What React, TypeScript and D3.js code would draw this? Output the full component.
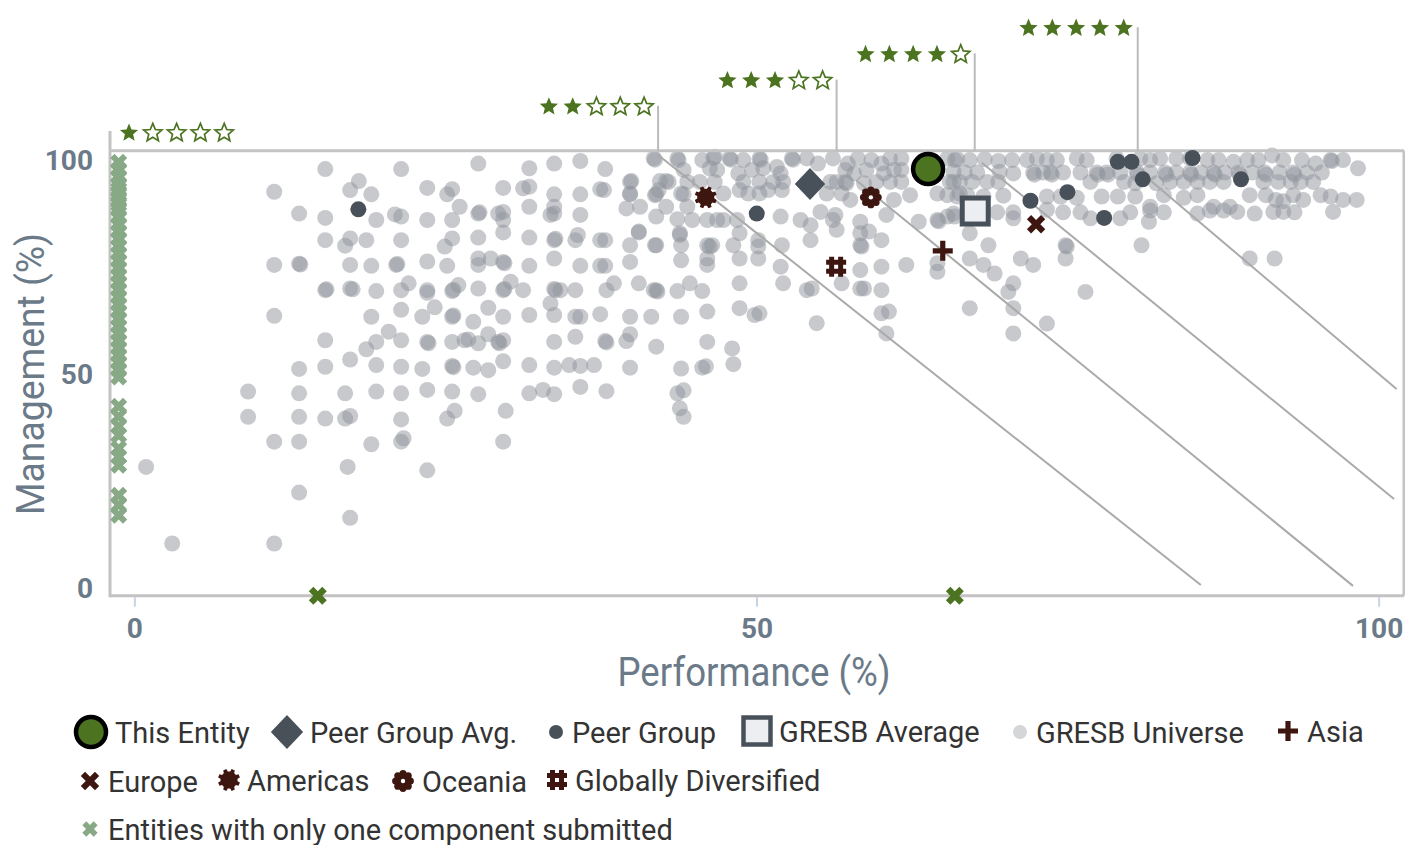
import React from "react";
import * as d3 from "d3";

// ---- data ----
// GRESB universe: [performance %, management %]
const universe: [number, number][] = [
  // left block
  [15.3, 97.7], [21.4, 97.7], [18.0, 94.9], [17.3, 92.8], [19.0, 91.8], [23.5, 93.3], [25.5, 93.0], [25.1, 91.8], [26.1, 88.9],
  [11.2, 92.4], [13.2, 87.3], [15.3, 86.3], [19.4, 85.8], [20.9, 87.1], [21.4, 86.6], [23.5, 85.8], [25.5, 85.8],
  [15.3, 81.1], [17.3, 81.5], [16.9, 79.8], [18.6, 81.1], [21.4, 81.1], [25.5, 81.5], [24.9, 79.6],
  [11.2, 75.3], [13.2, 75.6], [13.3, 75.4], [17.3, 75.3], [19.0, 75.1], [21.0, 75.3], [21.1, 75.5], [23.5, 76.1], [25.1, 75.1],
  [15.3, 69.4], [15.4, 69.6], [17.3, 69.8], [17.5, 69.6], [19.4, 69.2], [21.4, 69.4], [22.0, 71.0], [23.5, 69.4], [23.5, 68.8],
  [25.5, 69.2], [25.6, 69.5], [26.0, 70.6],
  [11.2, 63.4], [19.0, 63.2], [21.4, 64.8], [23.1, 63.2], [24.1, 65.4], [25.5, 63.2], [25.6, 63.5],
  [15.3, 57.7], [19.4, 57.3], [20.4, 59.7], [18.6, 55.6], [21.4, 57.7], [23.5, 57.3], [23.6, 57.0], [25.5, 57.3], [26.5, 57.7],
  [13.2, 51.0], [15.3, 51.5], [17.3, 53.2], [19.4, 51.9], [21.4, 51.5], [23.1, 51.0], [25.5, 51.7], [25.6, 51.4],
  [9.1, 45.7], [13.2, 45.3], [16.9, 45.3], [19.4, 45.7], [21.4, 45.3], [23.5, 46.1], [25.5, 45.7],
  [9.1, 39.8], [13.2, 39.8], [15.3, 39.4], [16.9, 39.4], [17.3, 40.0], [21.4, 39.2], [25.1, 39.4], [25.7, 41.2],
  [11.2, 34.0], [13.2, 34.0], [19.0, 33.4], [21.4, 34.0], [21.6, 34.8],
  [0.9, 28.1], [17.1, 28.1], [23.5, 27.3], [13.2, 22.1], [17.3, 16.2], [3.0, 10.2], [11.2, 10.2],
  // middle block
  [27.6, 99.0], [31.7, 97.9], [33.7, 99.0], [35.8, 99.6], [37.8, 97.7], [39.9, 94.9], [41.7, 100.2], [41.8, 99.9],
  [43.6, 100.2], [43.7, 99.8], [45.6, 99.8], [46.5, 100.3],
  [29.6, 93.3], [31.2, 93.2], [31.7, 93.6], [33.7, 91.8], [35.8, 91.8], [37.4, 93.0], [39.8, 91.8], [41.9, 91.8],
  [42.7, 94.9], [42.2, 94.9], [44.4, 94.7], [44.1, 91.8],
  [27.6, 87.3], [27.7, 87.6], [29.2, 87.3], [29.6, 87.7], [29.6, 85.8], [31.7, 88.9], [33.7, 88.9], [33.7, 87.3], [33.4, 87.0],
  [35.8, 87.0], [39.5, 88.5], [40.6, 88.9], [41.9, 86.6], [42.7, 88.9], [43.6, 86.0], [44.4, 88.9], [44.8, 85.8], [46.0, 85.8], [46.8, 85.8],
  [27.6, 81.7], [29.6, 82.9], [31.7, 81.7], [33.7, 81.1], [33.8, 81.4], [35.4, 81.1], [35.6, 82.3], [37.4, 81.1], [37.8, 81.1],
  [40.5, 82.9], [39.8, 79.9], [41.9, 79.9], [43.8, 82.3], [43.9, 79.9], [46.0, 79.9], [46.4, 79.9],
  [27.6, 76.8], [27.6, 75.3], [28.6, 76.8], [29.6, 76.0], [29.7, 75.7], [31.7, 75.1], [33.7, 76.8], [35.8, 75.1], [37.4, 75.1],
  [37.8, 75.1], [39.8, 76.0], [43.9, 76.4], [46.0, 76.8], [46.2, 79.6], [46.0, 75.3],
  [27.6, 69.8], [29.6, 69.4], [29.7, 69.7], [30.2, 71.4], [31.2, 69.4], [33.7, 69.7], [33.8, 69.4], [34.2, 69.4], [35.4, 69.4],
  [37.9, 69.4], [38.5, 71.0], [40.5, 71.0], [41.9, 69.4], [42.0, 69.1], [41.7, 69.4], [43.6, 69.2], [44.6, 71.0], [45.6, 69.2],
  [27.2, 62.0], [28.4, 65.3], [29.6, 63.2], [31.7, 63.6], [33.4, 66.3], [33.7, 63.6], [35.4, 63.2], [35.8, 63.2], [37.4, 63.8],
  [39.8, 63.2], [41.5, 63.2], [43.9, 63.2], [46.0, 64.4],
  [26.8, 57.9], [27.6, 57.0], [28.4, 59.1], [29.2, 57.3], [29.3, 57.0], [29.6, 57.7], [33.7, 57.3], [35.4, 58.5], [37.8, 57.5],
  [37.9, 57.2], [39.5, 57.5], [39.8, 59.1], [41.9, 56.2], [46.0, 57.3],
  [27.2, 51.3], [28.4, 50.7], [29.6, 52.8], [31.7, 51.9], [33.7, 51.3], [34.9, 51.9], [35.8, 51.7], [36.9, 51.9], [39.8, 51.3],
  [43.9, 51.1], [45.6, 51.3],
  [27.6, 45.1], [31.7, 45.3], [32.8, 46.1], [33.7, 45.1], [35.8, 46.8], [37.9, 45.8], [43.6, 45.3],
  [29.8, 41.2], [44.1, 39.8], [43.8, 41.8], [29.6, 34.0],
  // upper middle block
  [46.6, 100.6], [47.8, 100.2], [47.9, 99.9], [48.9, 99.8], [50.2, 100.2], [50.3, 99.9], [51.6, 98.2], [52.8, 100.2], [52.9, 99.9],
  [54.0, 100.2], [54.9, 99.0], [56.1, 100.2], [57.3, 99.0], [58.1, 100.2], [59.2, 99.8], [60.0, 99.0], [60.7, 100.2], [61.6, 100.2],
  [65.3, 100.2], [65.9, 99.8],
  [44.1, 97.5], [46.2, 97.9], [46.8, 97.5], [48.5, 96.7], [49.6, 97.5], [50.5, 97.9], [51.9, 96.7], [57.1, 97.5], [57.8, 96.7],
  [58.8, 97.5], [60.2, 96.7], [61.0, 97.5], [61.6, 97.5],
  [39.8, 94.7], [42.9, 94.7], [45.4, 94.7], [46.6, 94.7], [48.9, 94.7], [50.2, 94.7], [51.3, 94.7], [52.1, 94.7], [55.9, 94.7],
  [56.4, 94.7], [57.1, 94.7], [57.2, 94.4], [58.6, 94.4], [59.6, 94.7], [60.7, 94.7], [61.6, 94.7], [65.5, 94.7], [66.3, 94.7],
  [37.7, 92.8], [39.8, 92.0], [41.8, 91.6], [42.1, 92.8], [43.9, 92.0], [47.3, 92.0], [48.6, 92.8], [49.3, 92.0], [50.2, 92.0],
  [50.9, 92.8], [52.0, 92.8], [55.6, 92.0], [56.8, 92.0], [57.5, 90.5], [61.0, 90.5], [62.3, 91.6], [64.5, 92.0], [65.3, 91.6], [66.3, 92.0],
  [47.3, 85.8], [48.4, 85.8], [51.9, 86.6], [53.5, 85.8], [54.3, 84.6], [55.1, 87.7], [56.3, 87.0], [56.1, 85.8], [58.3, 85.4],
  [60.4, 87.0], [63.0, 85.4], [64.5, 85.8], [64.6, 85.5], [65.3, 86.6], [65.9, 86.6],
  [40.5, 83.1], [41.8, 79.9], [43.8, 82.7], [48.1, 79.9], [48.6, 82.7], [50.1, 81.1], [50.1, 79.6], [52.0, 79.9], [54.3, 81.1],
  [56.4, 83.5], [58.3, 82.7], [58.3, 79.9], [58.4, 79.6], [60.0, 81.1], [59.0, 83.1],
  [48.6, 76.8], [50.1, 76.8], [51.9, 74.9], [58.3, 74.1], [60.0, 74.9], [62.0, 75.3], [64.5, 75.7], [64.5, 73.7],
  [48.6, 71.0], [52.1, 71.0], [54.0, 69.4], [54.4, 69.8], [56.8, 71.0], [58.3, 69.8], [58.6, 69.8], [60.0, 69.4],
  [48.6, 65.2], [49.8, 63.6], [50.2, 64.0], [54.8, 61.7], [60.0, 64.0], [60.6, 64.4], [60.4, 59.3],
  [48.0, 55.8], [48.1, 52.1], [45.9, 51.6], [44.1, 46.0],
  // right block
  [66.1, 100.0], [67.1, 99.8], [68.3, 100.0], [69.4, 99.6], [70.5, 99.8], [71.7, 99.8], [72.5, 100.2], [73.3, 99.8], [74.1, 99.8],
  [75.7, 100.2], [76.5, 99.8], [78.9, 100.2], [80.8, 100.2], [81.6, 99.8], [82.4, 100.2], [83.7, 100.2], [84.8, 100.2], [86.2, 99.8],
  [87.1, 99.8], [88.3, 99.4], [89.4, 99.8], [90.3, 99.8], [91.4, 100.9], [92.3, 99.8], [93.8, 99.8], [94.9, 99.0], [96.1, 99.8],
  [96.2, 99.6], [97.1, 99.8],
  [65.8, 97.1], [66.7, 96.9], [67.7, 96.9], [69.5, 97.1], [70.6, 96.7], [72.2, 96.9], [72.3, 96.4], [73.0, 96.9], [73.6, 96.9],
  [73.7, 96.4], [74.6, 96.9], [76.0, 96.9], [77.3, 96.9], [77.4, 96.4], [78.1, 96.9], [78.2, 96.4], [79.2, 96.9], [80.5, 97.1],
  [80.6, 96.4], [81.6, 96.9], [82.8, 96.9], [82.9, 96.4], [83.7, 96.9], [84.8, 96.9], [84.9, 96.4], [85.7, 96.9], [86.7, 96.9],
  [86.8, 96.4], [87.6, 96.9], [88.7, 96.9], [88.8, 96.4], [89.8, 96.9], [90.8, 96.9], [90.9, 96.4], [92.0, 96.9], [93.1, 96.9],
  [93.2, 96.4], [94.2, 96.9], [95.4, 96.9], [98.3, 97.9],
  [65.8, 94.7], [67.3, 94.7], [68.5, 94.7], [69.4, 94.7], [76.8, 94.7], [79.5, 94.7], [80.4, 94.4], [82.1, 94.4], [83.2, 94.7],
  [84.3, 94.7], [85.4, 94.7], [86.4, 94.7], [87.5, 94.7], [90.7, 94.7], [91.9, 94.7], [92.9, 94.7], [93.7, 94.7], [94.7, 94.7],
  [66.1, 91.3], [66.9, 91.6], [68.2, 91.3], [69.8, 91.5], [73.3, 91.3], [74.4, 91.3], [75.7, 91.0], [77.7, 91.3], [79.0, 91.3],
  [80.4, 91.3], [81.6, 88.9], [82.7, 91.6], [84.3, 91.0], [85.4, 91.6], [86.7, 88.9], [88.0, 88.9], [89.6, 91.6], [90.9, 91.6],
  [91.7, 90.5], [92.3, 90.2], [93.1, 91.6], [93.9, 90.5], [95.3, 91.6], [96.1, 91.3], [97.1, 90.5], [98.2, 90.5],
  [65.8, 87.3], [67.1, 86.6], [69.3, 87.6], [70.6, 87.6], [73.3, 88.2], [74.6, 87.6], [76.0, 87.6], [76.8, 86.2], [79.2, 86.2],
  [80.0, 87.6], [81.6, 88.0], [82.7, 87.6], [85.4, 87.3], [86.4, 88.0], [87.5, 88.0], [88.6, 87.7], [90.0, 87.3], [91.5, 87.7],
  [92.3, 87.7], [93.2, 87.6], [96.3, 87.7],
  [67.1, 82.7], [81.5, 85.4], [70.6, 86.2], [68.6, 79.9], [74.8, 79.9], [74.9, 79.6], [80.9, 79.9], [67.1, 76.8], [68.2, 75.3],
  [69.1, 73.3], [71.2, 76.8], [72.2, 75.3], [74.8, 76.8], [89.6, 76.8], [91.6, 76.8], [70.6, 71.0], [70.2, 69.0], [76.4, 69.0],
  [67.1, 65.2], [70.6, 65.2], [73.3, 61.6], [70.6, 59.3],
];

const peerGroup: [number, number][] = [
  [17.96, 88.3], [49.98, 87.3], [71.98, 90.3], [74.95, 92.3], [77.9, 86.3],
  [79.0, 99.4], [80.1, 99.4], [81.0, 95.3], [85.0, 100.3], [88.9, 95.3],
];

const thisEntity: [number, number] = [63.75, 97.7];
const peerGroupAvg: [number, number] = [54.26, 94.2];
const gresbAverage: [number, number] = [67.54, 87.9];

const regionNames = ["Asia", "Europe", "Americas", "Oceania", "Globally Diversified"];
const regionValues: [number, number][] = [
  [64.93, 78.6], [72.43, 84.8], [45.88, 91.1], [59.15, 91.1], [56.36, 74.9],
];

// entities with only one component submitted
const singleMgmtOnly = [
  99.3, 97.6, 95.9, 94.2, 93.0, 91.8, 90.6, 89.4, 88.2, 86.5, 84.8, 83.1, 81.4, 79.7, 78.0, 76.3,
  74.6, 72.9, 71.2, 69.5, 67.8, 66.1, 64.4, 62.7, 61.0, 59.3, 57.6, 55.9, 54.2, 52.5, 50.8, 49.1,
  42.3, 39.9, 37.6, 35.5, 32.4, 30.5, 28.5, 21.5, 19.2, 16.8,
];
const singlePerfOnly = [14.7, 65.9];

// star rating thresholds on performance (for 2..5 stars) and iso-score lines
const starRatings = [1, 2, 3, 4, 5];
const starThresholds = [42.05, 56.4, 67.5, 80.6];
const isoLines: [number, number, number, number][] = [
  [42.05, 101.0, 85.67, 0.5],
  [57.97, 95.1, 97.9, 0.3],
  [68.07, 99.2, 101.2, 20.6],
  [81.6, 95.1, 101.4, 46.3],
];

const xTicks = [0, 50, 100];
const yTicks = [0, 50, 100];

const legendLabels = [
  "This Entity", "Peer Group Avg.", "Peer Group", "GRESB Average", "GRESB Universe", "Asia",
  "Europe", "Americas", "Oceania", "Globally Diversified", "Entities with only one component submitted",
];

// ---- styling / layout ----
const W = 1405;
const H = 845;
const FONT = "Roboto, 'DejaVu Sans', sans-serif";
const AXIS_COLOR = "#6b7a88";
const FRAME = "#c3c3c3";
const GREEN = "#4b7320";
const LIGHT_GREEN = "#87a985";
const BROWN = "#3d1610";
const SLATE = "#48515a";

const x = d3.scaleLinear().domain([-2, 102]).range([110, 1404]);
const y = d3.scaleLinear().domain([-2, 102]).range([595.7, 150.7]);

// five-point star, outer radius R, inner radius r
const starPath = (() => {
  const R = 9.6;
  const r = 4.3;
  const pts: [number, number][] = d3.range(10).map((i) => {
    const a = (i * Math.PI) / 5;
    const rad = i % 2 === 0 ? R : r;
    return [rad * Math.sin(a), -rad * Math.cos(a)];
  });
  return d3.line()(pts) + "Z";
})();

// plus polygon, half length a, half width b
const plusPath = (a: number, b: number) =>
  `M${-b},${-a}H${b}V${-b}H${a}V${b}H${b}V${a}H${-b}V${b}H${-a}V${-b}H${-b}Z`;

const hashPath = (s: number, t: number, off: number) => {
  const r = (x0: number, y0: number, w: number, h: number) => `M${x0},${y0}h${w}v${h}h${-w}Z`;
  return (
    r(-off - t / 2, -s, t, 2 * s) + r(off - t / 2, -s, t, 2 * s) +
    r(-s, -off - t / 2, 2 * s, t) + r(-s, off - t / 2, 2 * s, t)
  );
};

const gearPath = (() => {
  const pts: [number, number][] = [];
  const d = (deg: number) => (deg * Math.PI) / 180;
  for (let k = 0; k < 8; k++) {
    const th = d(k * 45 + 22.5);
    pts.push([8.6, th - d(14)], [11.2, th - d(9)], [11.2, th + d(9)], [8.6, th + d(14)]);
  }
  return d3.line()(pts.map(([r, a]) => [r * Math.sin(a), -r * Math.cos(a)])) + "Z";
})();

const XMark = ({ cx, cy, color, a = 9, b = 3 }: { cx: number; cy: number; color: string; a?: number; b?: number }) => (
  <path d={plusPath(a, b)} transform={`translate(${cx},${cy}) rotate(45)`} fill={color} />
);

const Flower = ({ cx, cy }: { cx: number; cy: number }) => (
  <g transform={`translate(${cx},${cy})`} fill={BROWN}>
    <circle r={6} />
    {d3.range(8).map((i) => (
      <circle key={i} cx={7.3 * Math.sin((i * Math.PI) / 4)} cy={-7.3 * Math.cos((i * Math.PI) / 4)} r={3.6} />
    ))}
    <circle r={2.2} fill="#fff" />
  </g>
);

const regionMark = (name: string, cx: number, cy: number, key?: string | number) => {
  switch (name) {
    case "Asia":
      return <path key={key} d={plusPath(10, 2.6)} transform={`translate(${cx},${cy})`} fill={BROWN} />;
    case "Europe":
      return <XMark key={key} cx={cx} cy={cy} color={BROWN} a={10} b={3} />;
    case "Americas":
      return <path key={key} d={gearPath} transform={`translate(${cx},${cy})`} fill={BROWN} />;
    case "Oceania":
      return <Flower key={key} cx={cx} cy={cy} />;
    default:
      return <path key={key} d={hashPath(10, 5, 4.5)} transform={`translate(${cx},${cy})`} fill={BROWN} />;
  }
};

const Diamond = ({ cx, cy, s }: { cx: number; cy: number; s: number }) => (
  <path d={`M0,${-s}L${s * 0.95},0L0,${s}L${-s * 0.95},0Z`} transform={`translate(${cx},${cy})`} fill={SLATE} />
);

// legend layout: symbol x, row centre y, text x
const legendPos: [number, number, number][] = [
  [91, 732, 115], [287, 732, 310], [556, 732, 572], [757, 731, 779], [1020, 732, 1036], [1288, 731, 1307],
  [90, 781, 108], [229, 780, 247], [403, 781, 422], [557, 780, 575],
  [90, 829, 108],
];

const legendSymbol = (i: number, cx: number, cy: number) => {
  switch (i) {
    case 0:
      return <circle cx={cx} cy={cy} r={15} fill={GREEN} stroke="#000" strokeWidth={4.5} />;
    case 1:
      return <Diamond cx={cx} cy={cy} s={17} />;
    case 2:
      return <circle cx={cx} cy={cy} r={7} fill={SLATE} />;
    case 3:
      return <rect x={cx - 13.5} y={cy - 13.5} width={27} height={27} fill="#eceef2" stroke={SLATE} strokeWidth={4.5} />;
    case 4:
      return <circle cx={cx} cy={cy} r={7} fill="#d5d6d8" />;
    case 10:
      return <XMark cx={cx} cy={cy} color={LIGHT_GREEN} a={8} b={2.8} />;
    default:
      return regionMark(regionNames[i - 5], cx, cy);
  }
};

const App: React.FC = () => {
  const top = y(102);
  const left = x(-2);
  const right = x(102);
  const bottom = y(-2);
  const starGap = 23.8;
  const rowY = (rating: number) => 132 - (rating - 1) * 26.2;

  return (
    <svg width={W} height={H} style={{ position: "absolute", left: 0, top: 0, fontFamily: FONT }}>
      <rect width={W} height={H} fill="#fff" />

      {/* universe */}
      <g fill="#8f949b" fillOpacity={0.5}>
        {universe.map(([p, m], i) => (
          <circle key={i} cx={x(p)} cy={y(m)} r={8} />
        ))}
      </g>

      {/* iso-score lines */}
      <g stroke="#aaaaaa" strokeWidth={2}>
        {isoLines.map(([p1, m1, p2, m2], i) => (
          <line key={i} x1={x(p1)} y1={y(m1)} x2={x(p2)} y2={y(m2)} />
        ))}
      </g>

      {/* frame */}
      <g stroke={FRAME} strokeWidth={3} fill="none">
        <line x1={left} y1={top} x2={right} y2={top} />
        <line x1={left} y1={bottom} x2={right} y2={bottom} />
        <line x1={right} y1={top} x2={right} y2={bottom} />
        <line x1={left} y1={rowY(1) - 1} x2={left} y2={bottom + 1.5} />
      </g>

      {/* star thresholds */}
      <g stroke="#bbbbbb" strokeWidth={2}>
        {starThresholds.map((p, i) => (
          <line key={i} x1={x(p)} y1={top} x2={x(p)} y2={rowY(i + 2)} />
        ))}
      </g>
      {starRatings.map((rating) => {
        const startX = rating === 1 ? left + 19 : x(starThresholds[rating - 2]) - 14 - 4 * starGap;
        return (
          <g key={rating}>
            {d3.range(5).map((k) => (
              <path
                key={k}
                d={starPath}
                transform={`translate(${startX + k * starGap},${rowY(rating) + 1})`}
                fill={k < rating ? GREEN : "#fff"}
                stroke={GREEN}
                strokeWidth={k < rating ? 0 : 1.7}
              />
            ))}
          </g>
        );
      })}

      {/* axis ticks & labels */}
      <g stroke="#c6d5e6" strokeWidth={2}>
        {xTicks.map((t) => (
          <line key={t} x1={x(t)} x2={x(t)} y1={bottom + 1.5} y2={bottom + 11} />
        ))}
      </g>
      <g fill={AXIS_COLOR} fontSize={28} fontWeight={700}>
        {xTicks.map((t) => (
          <text key={t} x={x(t)} y={638} textAnchor="middle">{t}</text>
        ))}
        {yTicks.map((t) => (
          <text key={t} x={93} y={y(t) + 10.5} textAnchor="end">{t}</text>
        ))}
      </g>
      <text x={754} y={686} textAnchor="middle" fill={AXIS_COLOR} fontSize={40} textLength={273} lengthAdjust="spacingAndGlyphs">
        Performance (%)
      </text>
      <text
        transform={`translate(44,374) rotate(-90)`}
        textAnchor="middle"
        fill={AXIS_COLOR}
        fontSize={39}
        textLength={282}
        lengthAdjust="spacingAndGlyphs"
      >
        Management (%)
      </text>

      {/* peer group */}
      <g fill={SLATE}>
        {peerGroup.map(([p, m], i) => (
          <circle key={i} cx={x(p)} cy={y(m)} r={8} />
        ))}
      </g>

      {/* entities with only one component */}
      {singleMgmtOnly.map((m, i) => (
        <XMark key={"l" + i} cx={x(-1.3)} cy={y(m)} color={LIGHT_GREEN} />
      ))}
      {singlePerfOnly.map((p, i) => (
        <XMark key={"b" + i} cx={x(p)} cy={y(-2)} color={GREEN} a={9.5} b={3.2} />
      ))}

      {/* regions */}
      {regionValues.map(([p, m], i) => regionMark(regionNames[i], x(p), y(m), i))}

      {/* averages and this entity */}
      <Diamond cx={x(peerGroupAvg[0])} cy={y(peerGroupAvg[1])} s={16} />
      <rect
        x={x(gresbAverage[0]) - 13}
        y={y(gresbAverage[1]) - 13}
        width={26}
        height={26}
        fill="#eceef2"
        stroke={SLATE}
        strokeWidth={5}
      />
      <circle cx={x(thisEntity[0])} cy={y(thisEntity[1])} r={15} fill={GREEN} stroke="#000" strokeWidth={4.5} />

      {/* legend */}
      {legendLabels.map((label, i) => {
        const [sx, sy, tx] = legendPos[i];
        return (
          <g key={label}>
            {legendSymbol(i, sx, sy)}
            <text x={tx} y={sy + 10.5} fontSize={29} fill="#333">{label}</text>
          </g>
        );
      })}
    </svg>
  );
};

export default App;
